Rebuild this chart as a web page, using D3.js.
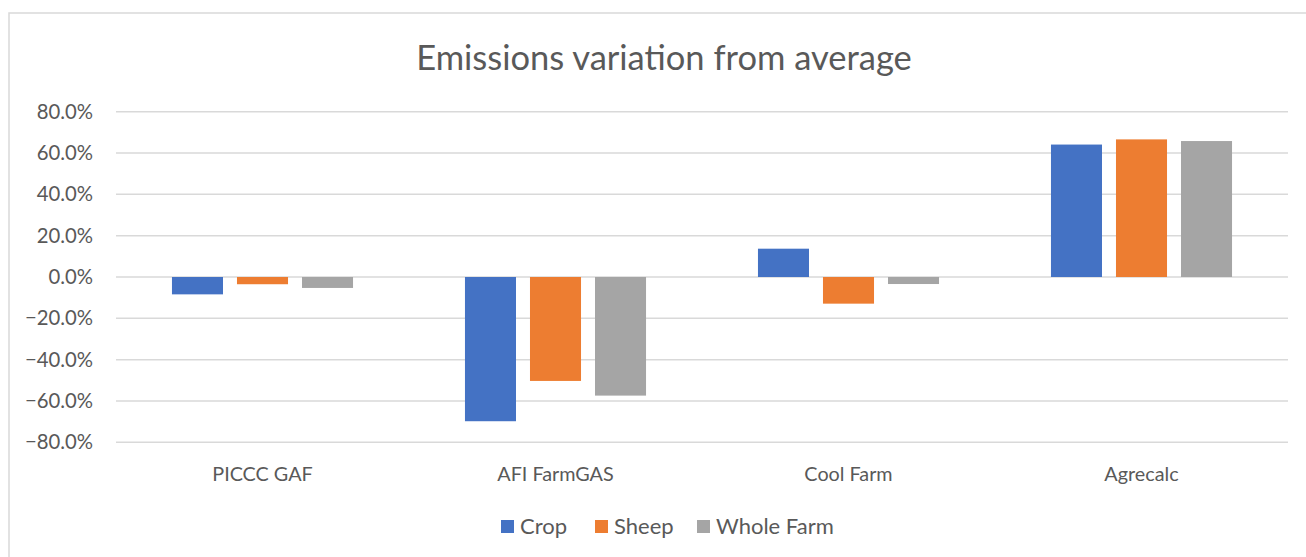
<!DOCTYPE html>
<html>
<head>
<meta charset="utf-8">
<script src="https://cdn.jsdelivr.net/npm/d3@7"></script>
<style>
  body { margin: 0; background: #fff; }
  svg text { font-family: Lato, "Open Sans", sans-serif; fill: #595959; }
</style>
</head>
<body>
<svg id="chart" width="1306" height="557"></svg>
<script>
const categories = ['PICCC GAF', 'AFI FarmGAS', 'Cool Farm', 'Agrecalc'];
const seriesNames = ['Crop', 'Sheep', 'Whole Farm'];
const cropValues = [-0.084, -0.698, 0.137, 0.641];
const sheepValues = [-0.035, -0.503, -0.129, 0.666];
const wholeFarmValues = [-0.053, -0.574, -0.034, 0.658];
const yTicks = [-0.8, -0.6, -0.4, -0.2, 0, 0.2, 0.4, 0.6, 0.8];
const colors = ['#4472C4', '#ED7D31', '#A5A5A5'];

const svg = d3.select('#chart');
const W = 1306, H = 557;

// chart area border (only top/left visible in the picture)
svg.append('rect')
  .attr('x', 9).attr('y', 13)
  .attr('width', W + 10).attr('height', H + 10)
  .attr('fill', 'none')
  .attr('stroke', '#D9D9D9')
  .attr('stroke-width', 1.5);

svg.append('text')
  .attr('x', 664).attr('y', 70)
  .attr('text-anchor', 'middle')
  .attr('font-size', 34.5)
  .text('Emissions variation from average');

const y = d3.scaleLinear().domain([-0.8, 0.8]).range([442.3, 111.7]);
const x0 = d3.scaleBand().domain(categories).range([116, 1288])
  .paddingInner(0.382).paddingOuter(0.191);
const x1 = d3.scaleBand().domain(seriesNames).range([0, x0.bandwidth()])
  .paddingInner(0.215).paddingOuter(0);

// gridlines
svg.append('g')
  .selectAll('line')
  .data(yTicks)
  .join('line')
  .attr('x1', 116).attr('x2', 1288)
  .attr('y1', d => y(d)).attr('y2', d => y(d))
  .attr('stroke', '#D9D9D9')
  .attr('stroke-width', 1.5);

// y axis labels
const fmt = d3.format('.1%');
svg.append('g')
  .selectAll('text')
  .data(yTicks)
  .join('text')
  .attr('x', 93)
  .attr('y', d => y(d) + 7)
  .attr('text-anchor', 'end')
  .attr('font-size', 20.3)
  .text(d => fmt(d));

// bars
const rows = categories.map((c, i) => ({
  category: c,
  values: [cropValues[i], sheepValues[i], wholeFarmValues[i]],
}));

const groups = svg.append('g')
  .selectAll('g')
  .data(rows)
  .join('g')
  .attr('transform', d => `translate(${x0(d.category)},0)`);

groups.selectAll('rect')
  .data(d => d.values.map((v, j) => ({ name: seriesNames[j], value: v, j })))
  .join('rect')
  .attr('x', d => x1(d.name))
  .attr('width', x1.bandwidth())
  .attr('y', d => y(Math.max(0, d.value)))
  .attr('height', d => Math.abs(y(d.value) - y(0)))
  .attr('fill', d => colors[d.j]);

// category labels
svg.append('g')
  .selectAll('text')
  .data(categories)
  .join('text')
  .attr('x', d => x0(d) + x0.bandwidth() / 2)
  .attr('y', 481)
  .attr('text-anchor', 'middle')
  .attr('font-size', 19.8)
  .text(d => d);

// legend
const legendX = [501, 595, 697];
const legend = svg.append('g')
  .selectAll('g')
  .data(seriesNames)
  .join('g')
  .attr('transform', (d, i) => `translate(${legendX[i]},520)`);
legend.append('rect')
  .attr('width', 13).attr('height', 13)
  .attr('fill', (d, i) => colors[i]);
legend.append('text')
  .attr('x', 19).attr('y', 13.5)
  .attr('font-size', 22)
  .text(d => d);
</script>
</body>
</html>
